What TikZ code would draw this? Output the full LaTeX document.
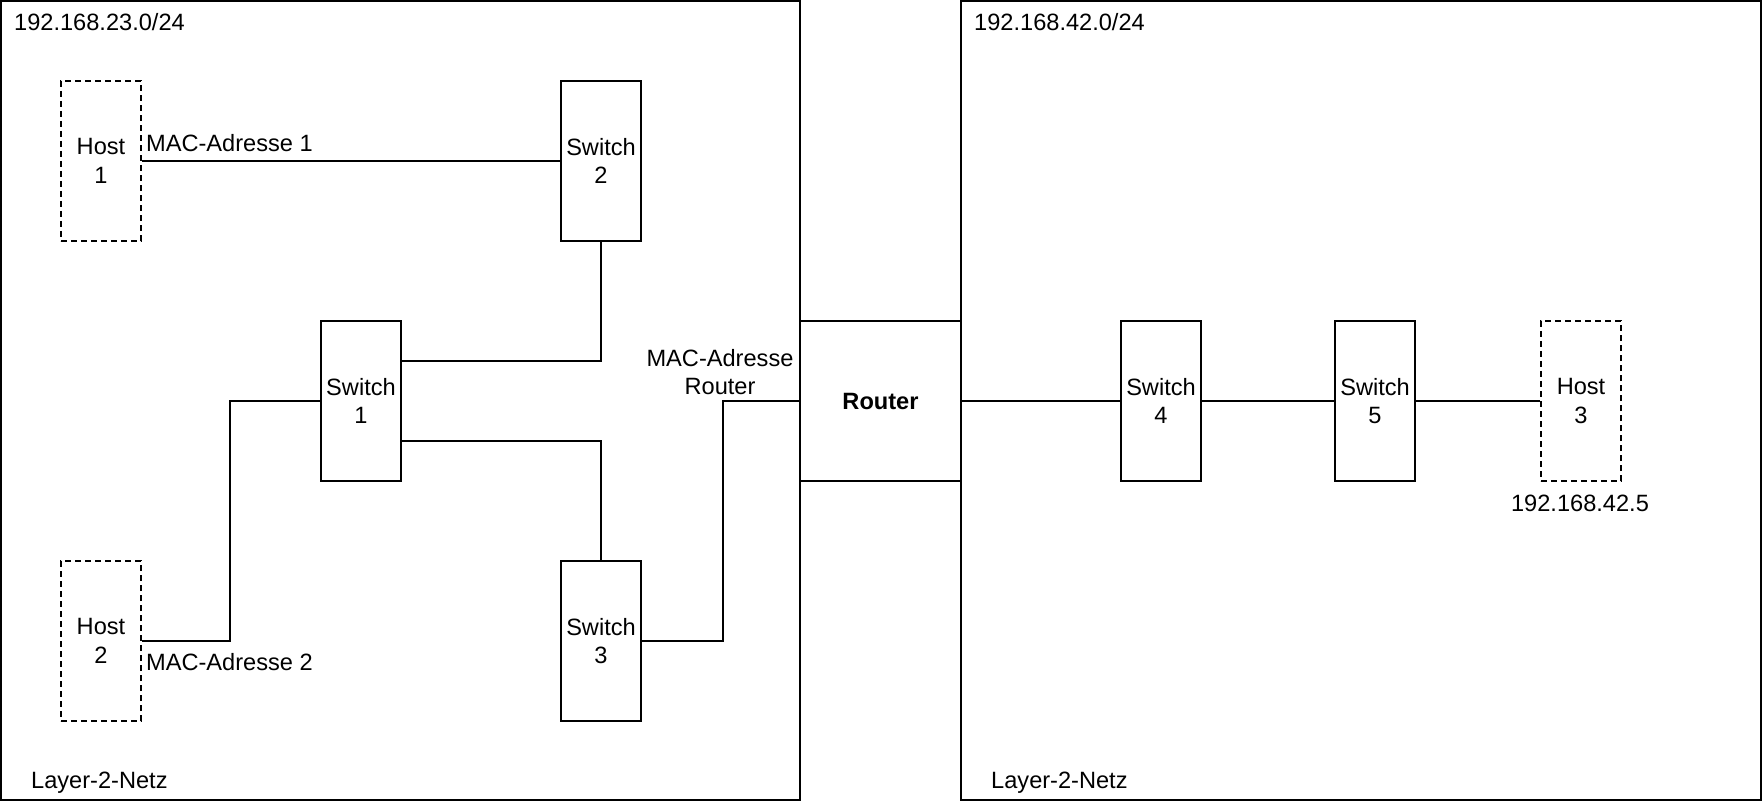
\documentclass[tikz,border=0pt]{standalone}
\usepackage{fontspec}
\setmainfont{Liberation Sans}
\begin{document}
\begin{tikzpicture}[x=1pt,y=-1pt,
  every node/.style={font=\fontsize{23.6}{28.5}\selectfont, inner sep=0pt, align=center},
  area/.style={draw, line width=2pt},
  dev/.style={draw, line width=2pt, minimum width=80pt, minimum height=160pt},
  host/.style={dev, dash pattern=on 6pt off 4pt},
  link/.style={line width=2pt}]
\useasboundingbox (0,0) rectangle (1762,802);
\node[area, minimum width=799pt, minimum height=799pt] (net1) at (400.5,400.5) {};
\node[area, minimum width=800pt, minimum height=799pt] (net2) at (1361,400.5) {};
\node[anchor=west] (l1) at (14,22) {192.168.23.0/24};
\node[anchor=west] (l2) at (974,22) {192.168.42.0/24};
\node[anchor=west] (n1) at (31,783) {Layer-2-Netz};
\node[anchor=west] (n2) at (991,783) {Layer-2-Netz};
\node[host] (h1) at (101,161) {Host\\1};
\node[host] (h2) at (101,641) {Host\\2};
\node[host] (h3) at (1581,401) {Host\\3};
\node[dev] (s1) at (361,401) {Switch\\1};
\node[dev] (s2) at (601,161) {Switch\\2};
\node[dev] (s3) at (601,641) {Switch\\3};
\node[dev] (s4) at (1161,401) {Switch\\4};
\node[dev] (s5) at (1375,401) {Switch\\5};
\node[dev, minimum width=161pt, font=\fontsize{23.6}{28.5}\selectfont\bfseries] (r) at (880.5,401) {Router};
\node[anchor=west] (m1) at (146,143) {MAC-Adresse 1};
\node[anchor=west] (m2) at (146,662) {MAC-Adresse 2};
\node (mr) at (720,372) {MAC-Adresse\\Router};
\node (ip3) at (1580,503) {192.168.42.5};
\draw[link] (h1.east) -- (s2.west);
\draw[link] (s2.south) |- ([yshift=40pt]s1.east);
\draw[link] ([yshift=-40pt]s1.east) -| (s3.north);
\draw[link] (s1.west) -- ++(-90,0) |- (h2.east);
\draw[link] (s3.east) -- ++(81,0) |- (r.west);
\draw[link] (r.east) -- (s4.west);
\draw[link] (s4.east) -- (s5.west);
\draw[link] (s5.east) -- (h3.west);
\end{tikzpicture}
\end{document}
